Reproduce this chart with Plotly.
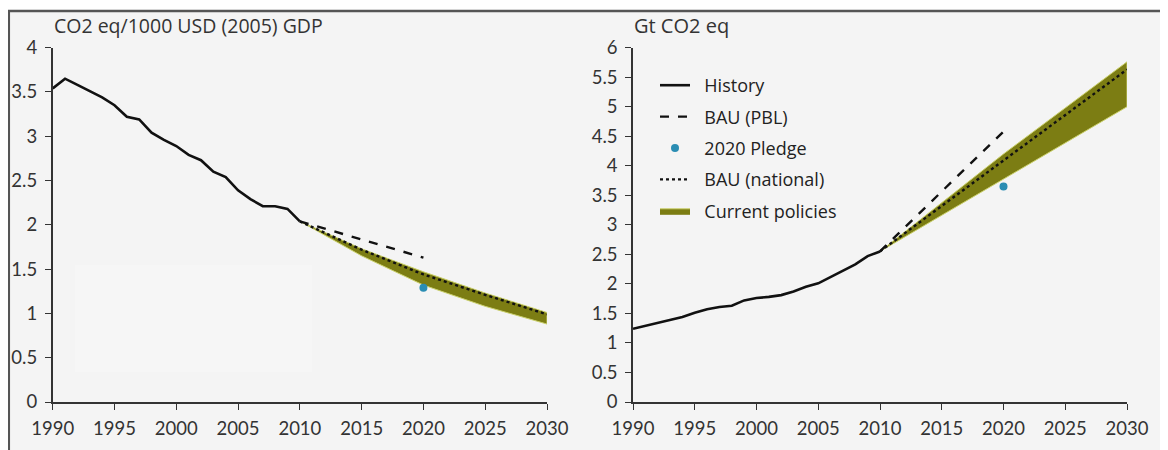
import plotly.graph_objects as go

W, H = 1168, 450
OFF = 8  # page body margin: figure is drawn 8px right/down of page origin

# ---------------- data ----------------
hist_years = list(range(1990, 2011))
intensity_hist = [3.54, 3.65, 3.58, 3.51, 3.44, 3.35, 3.22, 3.19, 3.04, 2.96, 2.89,
                  2.79, 2.73, 2.60, 2.54, 2.39, 2.29, 2.21, 2.21, 2.18, 2.04]
emis_hist = [1.24, 1.29, 1.34, 1.38, 1.44, 1.51, 1.57, 1.61, 1.63, 1.72, 1.76,
             1.78, 1.81, 1.87, 1.95, 2.01, 2.12, 2.23, 2.33, 2.47, 2.55]

bau_pbl_years = [2010, 2020]
intensity_bau_pbl = [2.04, 1.63]
emis_bau_pbl = [2.55, 4.58]

proj_years = [2010, 2015, 2020, 2025, 2030]
intensity_bau_nat = [2.04, 1.72, 1.44, 1.21, 0.99]
intensity_cp_high = [2.04, 1.73, 1.47, 1.23, 1.01]
intensity_cp_low = [2.04, 1.65, 1.32, 1.08, 0.88]

emis_bau_nat = [2.55, 3.32, 4.10, 4.87, 5.63]
emis_cp_high = [2.55, 3.37, 4.20, 4.98, 5.76]
emis_cp_low = [2.55, 3.16, 3.78, 4.39, 5.00]

pledge_year = [2020]
intensity_pledge = [1.29]
emis_pledge = [3.65]

x_ticks = [1990, 1995, 2000, 2005, 2010, 2015, 2020, 2025, 2030]
left_title = "CO2 eq/1000 USD (2005) GDP"
right_title = "Gt CO2 eq"

# ---------------- styles ----------------
BLACK = "#111111"
OLIVE = "#7c7d13"
TEAL = "#2a8db3"
AXIS = "#333333"
TICKFONT = dict(family="Lato, Open Sans, sans-serif", size=18.5, color="#333333")
NB = "\u00a0\u00a0"


def px_x(p):
    return (p - OFF) / W


def px_y(p):
    return 1 - (p - OFF) / H


fig = go.Figure()


def add_panel(xa, ya, hist, bau_pbl, bau_nat, hi, lo, pledge, legend):
    fig.add_trace(go.Scatter(
        x=proj_years + proj_years[::-1], y=hi + lo[::-1],
        fill="toself", fillcolor=OLIVE, mode="lines",
        line=dict(color="#c9cf6a", width=1),
        name=NB + "Current policies", legendrank=5, showlegend=legend,
        xaxis=xa, yaxis=ya, hoverinfo="skip"))
    fig.add_trace(go.Scatter(
        x=hist_years, y=hist, mode="lines",
        line=dict(color=BLACK, width=2.6),
        name=NB + "History", legendrank=1, showlegend=legend, xaxis=xa, yaxis=ya))
    fig.add_trace(go.Scatter(
        x=bau_pbl_years, y=bau_pbl, mode="lines",
        line=dict(color=BLACK, width=2.4, dash="dash"),
        name=NB + "BAU (PBL)", legendrank=2, showlegend=legend, xaxis=xa, yaxis=ya))
    fig.add_trace(go.Scatter(
        x=proj_years, y=bau_nat, mode="lines",
        line=dict(color=BLACK, width=2.4, dash="dot"),
        name=NB + "BAU (national)", legendrank=4, showlegend=legend, xaxis=xa, yaxis=ya))
    fig.add_trace(go.Scatter(
        x=pledge_year, y=pledge, mode="markers",
        marker=dict(color=TEAL, size=8),
        name=NB + "2020 Pledge", legendrank=3, showlegend=legend, xaxis=xa, yaxis=ya))


add_panel("x", "y", intensity_hist, intensity_bau_pbl, intensity_bau_nat,
          intensity_cp_high, intensity_cp_low, intensity_pledge, False)
add_panel("x2", "y2", emis_hist, emis_bau_pbl, emis_bau_nat,
          emis_cp_high, emis_cp_low, emis_pledge, True)

for tr in fig.data:
    tr.legendgroup = tr.name

ydom = [px_y(402), px_y(47.7)]
common_x = dict(range=[1990, 2030], tickvals=x_ticks, showline=True, linecolor=AXIS,
                linewidth=1.6, ticks="outside", ticklen=6, tickcolor=AXIS, tickwidth=1.4,
                showgrid=False, zeroline=False, tickfont=TICKFONT, fixedrange=True,
                automargin=False, ticklabelstandoff=3)
common_y = dict(dtick=0.5, tick0=0, showline=True, linecolor=AXIS, linewidth=1.6,
                ticks="outside", ticklen=6, tickcolor=AXIS, tickwidth=1.4,
                showgrid=False, zeroline=False, tickfont=TICKFONT, domain=ydom,
                fixedrange=True, automargin=False, ticklabelstandoff=4)

fig.update_layout(
    template="none",
    width=W, height=H,
    margin=dict(l=0, r=0, t=0, b=0, autoexpand=False),
    paper_bgcolor="white", plot_bgcolor="rgba(0,0,0,0)",
    xaxis=dict(domain=[px_x(52.7), px_x(547)], anchor="y", **common_x),
    yaxis=dict(range=[0, 4], anchor="x", **common_y),
    xaxis2=dict(domain=[px_x(633), px_x(1127)], anchor="y2", **common_x),
    yaxis2=dict(range=[0, 6], anchor="x2", **common_y),
    showlegend=True,
    legend=dict(x=px_x(655), y=px_y(67), xanchor="left", yanchor="top",
                bgcolor="rgba(0,0,0,0)", borderwidth=0, tracegroupgap=5,
                font=dict(family="Open Sans, sans-serif", size=18, color="#222222"),
                itemwidth=30),
    shapes=[
        dict(type="rect", xref="paper", yref="paper", x0=0.8 / W, x1=1.02,
             y0=-0.05, y1=1 - 3 / H, fillcolor="#f4f4f4",
             line=dict(color="#555555", width=2.5), layer="below"),
        dict(type="rect", xref="paper", yref="paper", x0=px_x(75), x1=px_x(312),
             y0=px_y(372), y1=px_y(265), fillcolor="#f6f6f6",
             line=dict(width=0), layer="below"),
    ],
    annotations=[
        dict(text=left_title, xref="paper", yref="paper", x=px_x(52), y=px_y(25),
             xanchor="left", yanchor="middle", showarrow=False,
             font=dict(family="Open Sans, sans-serif", size=19.5, color="#333333")),
        dict(text=right_title, xref="paper", yref="paper", x=px_x(632), y=px_y(25),
             xanchor="left", yanchor="middle", showarrow=False,
             font=dict(family="Open Sans, sans-serif", size=20, color="#333333")),
    ],
)

fig.write_html("out.html")
